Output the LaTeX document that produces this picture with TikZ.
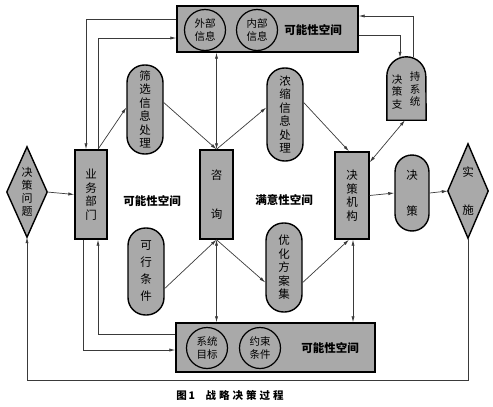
\documentclass[tikz,border=0pt]{standalone}
\usepackage{fontspec}
\setmainfont{Noto Sans CJK SC}
\usetikzlibrary{arrows.meta}
\definecolor{boxgray}{HTML}{A9A9A9}
\definecolor{linegray}{HTML}{3A3A3A}
\tikzset{
  shp/.style={draw=black, line width=1.4pt, fill=boxgray},
  rectbox/.style={shp, inner sep=0pt, align=center, font=\fontsize{11.5}{13.5}\selectfont},
  pill/.style={shp, rounded corners=17.5pt, inner sep=0pt, align=center, font=\fontsize{11.5}{13.5}\selectfont},
  circ/.style={circle, draw=black, line width=1.2pt, fill=boxgray, minimum size=41pt, inner sep=0pt, align=center, font=\fontsize{10.5}{12.5}\selectfont},
  ghost/.style={inner sep=0pt, align=center, font=\fontsize{11.5}{13}\selectfont},
  lbl/.style={inner sep=0pt, font=\fontsize{11.5}{13}\selectfont\bfseries},
  conn/.style={draw=linegray, line width=0.7pt},
  arr/.style={conn, -{Latex[length=6pt,width=3.2pt]}},
  darr/.style={conn, {Latex[length=6pt,width=3.2pt]}-{Latex[length=6pt,width=3.2pt]}},
}
\begin{document}
\begin{tikzpicture}[x=1pt,y=-1pt]
\useasboundingbox (0,0) rectangle (493,407);
% top and bottom boxes
\node[shp, minimum width=181pt, minimum height=46pt, inner sep=0pt] (top) at (267.5,29) {};
\node[circ] (ext) at (205,30) {外部\\信息};
\node[circ] (int) at (257,30) {内部\\信息};
\node[lbl] (topl) at (313,30) {可能性空间};
\node[shp, minimum width=199pt, minimum height=49pt, inner sep=0pt] (bot) at (275.5,347.5) {};
\node[circ] (sys) at (207,348) {系统\\目标};
\node[circ] (con) at (260,348) {约束\\条件};
\node[lbl] (botl) at (330,348) {可能性空间};
% diamonds
\node[ghost, minimum width=40pt, minimum height=90pt] (wt) at (27,192) {};
\draw[shp] (wt.north) -- (wt.east) -- (wt.south) -- (wt.west) -- cycle;
\node[ghost, font=\fontsize{11}{13}\selectfont] at (wt) {决\\策\\问\\题};
\node[ghost, minimum width=40pt, minimum height=94pt] (ss) at (468,191) {};
\draw[shp] (ss.north) -- (ss.east) -- (ss.south) -- (ss.west) -- cycle;
\node[ghost] at (ss) {实\\[25pt]施};
% rectangles
\node[rectbox, minimum width=32pt, minimum height=89pt] (yw) at (91,194.5) {业\\务\\部\\门};
\node[rectbox, minimum width=33pt, minimum height=89pt] (zx) at (216.5,194.5) {咨\\[26pt]询};
\node[rectbox, minimum width=34pt, minimum height=87pt] (jg) at (352,195.5) {决\\策\\机\\构};
% pills
\node[pill, minimum width=34pt, minimum height=76pt, rounded corners=17pt] (jc) at (412,193) {决\\[22pt]策};
\node[pill, minimum width=36pt, minimum height=89pt] (sx) at (145,109.5) {筛\\选\\信\\息\\处\\理};
\node[pill, minimum width=36pt, minimum height=93pt] (ns) at (285,114.5) {浓\\缩\\信\\息\\处\\理};
\node[pill, minimum width=36pt, minimum height=87pt, font=\fontsize{11.5}{17}\selectfont] (kx) at (146,271.5) {可\\行\\条\\件};
\node[pill, minimum width=36pt, minimum height=89pt] (yh) at (284,267.5) {优\\化\\方\\案\\集};
% decision support tombstone
\node[ghost, minimum width=39pt, minimum height=63pt] (dss) at (406.5,88.5) {};
\draw[shp] (dss.south west) -- ([yshift=-19.5pt]dss.north west) arc[start angle=180, end angle=0, radius=19.5pt] -- (dss.south east) -- cycle;
\node[ghost, font=\fontsize{10.5}{12.5}\selectfont] at (397,92) {决\\策\\支};
\node[ghost, font=\fontsize{10.5}{12.5}\selectfont] at (415,89) {持\\系\\统};
% space labels
\node[lbl] (kn) at (152,201) {可能性空间};
\node[lbl] (my) at (284,200) {满意性空间};
% caption
\node[inner sep=0pt, font=\fontsize{10.5}{12}\selectfont\bfseries] (cap) at (230,395) {图\,1\quad 战\hspace{3pt}略\hspace{3pt}决\hspace{3pt}策\hspace{3pt}过\hspace{3pt}程};
% connectors
\draw[arr] ([yshift=10pt]top.west) -| ([xshift=-5pt]yw.north);
\draw[arr] ([xshift=7pt]yw.north) |- ([yshift=-9pt]top.west);
\draw[arr] ([xshift=7pt]yw.north) -- ([yshift=2pt]sx.west);
\draw[arr] ([yshift=7pt]sx.east) -- (zx.north);
\draw[darr] (zx.north |- top.south) -- (zx.north);
\draw[arr] (zx.north) -- ([yshift=7pt]ns.west);
\draw[arr] ([yshift=12pt]ns.east) -- ([xshift=-3pt]jg.north);
\draw[darr] ([yshift=-11pt]jg.north east) -- ([xshift=-1.5pt]dss.south);
\draw[arr] ([xshift=6.5pt]dss.north) |- ([yshift=13pt]top.east);
\draw[arr] ([yshift=-6pt]top.east) -| ([xshift=-6.5pt,yshift=-1pt]dss.north);
\draw[arr] (jg.east) -- (jc.west);
\draw[arr] (jc.east) -- (ss.west);
\draw[arr] (wt.east) -- (yw.west);
\coordinate (fb) at (0,380);
\draw[arr] (ss.south) -- (ss.south |- fb) -- (wt.south |- fb) -- (wt.south);
\draw[arr] ([xshift=-8pt]yw.south) |- ([yshift=-2.5pt]bot.west);
\draw[arr] ([yshift=13.5pt]bot.west) -| ([xshift=7pt]yw.south);
\draw[arr] ([yshift=-17pt]kx.east) -- (zx.south);
\draw[darr] (zx.south) -- (zx.south |- bot.north);
\draw[arr] (zx.south) -- ([yshift=-15pt]yh.west);
\draw[arr] ([yshift=-15pt]yh.east) -- ([xshift=-3pt]jg.south);
\draw[darr] ([xshift=1pt]jg.south) -- ([xshift=1pt]jg.south |- bot.north);
\end{tikzpicture}
\end{document}
